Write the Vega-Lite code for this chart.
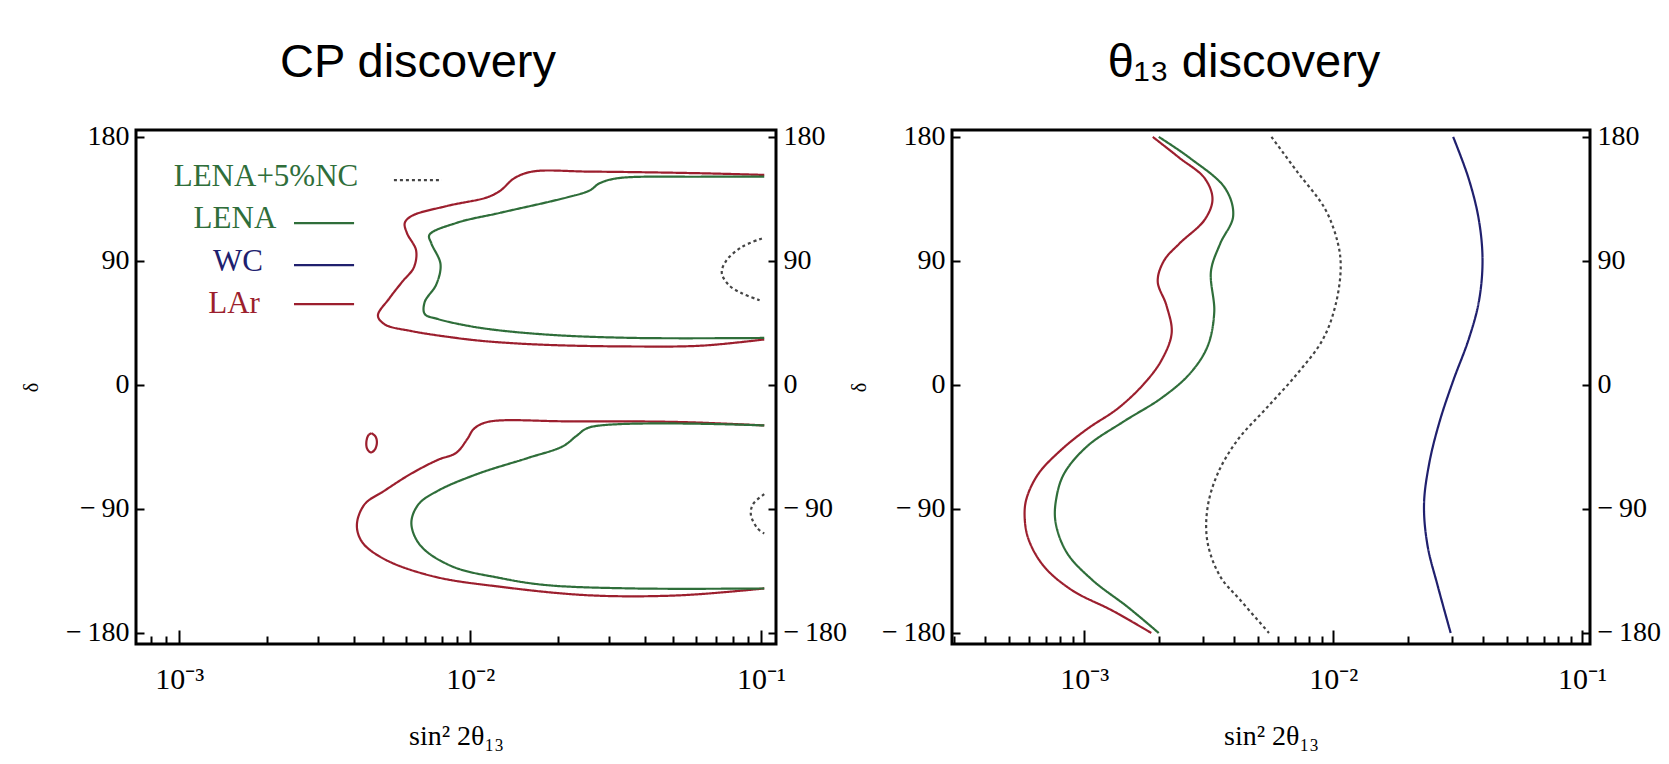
{
  "$schema": "https://vega.github.io/schema/vega-lite/v6.json",
  "background": "white",
  "padding": {"left": 20, "top": 37, "right": 0, "bottom": 0},
  "spacing": 0,
  "config": {
    "view": {"stroke": "black", "strokeWidth": 3},
    "axis": {"domain": false, "grid": false, "labelFont": "Liberation Serif", "labelColor": "black", "tickColor": "black", "tickWidth": 2, "titleFont": "Liberation Serif", "titleFontWeight": "normal", "titleColor": "black"},
    "title": {"font": "Liberation Sans", "fontSize": 47, "fontWeight": "normal", "color": "black", "offset": 36}
  },
  "datasets": {
    "curves": [
      {"p":"CP","s":"LAr","c":"LAr1","i":1,"x":0.1026,"y":152.4},
      {"p":"CP","s":"LAr","c":"LAr1","i":2,"x":0.0625,"y":153.6},
      {"p":"CP","s":"LAr","c":"LAr1","i":3,"x":0.02582,"y":154.8},
      {"p":"CP","s":"LAr","c":"LAr1","i":4,"x":0.01633,"y":154.8},
      {"p":"CP","s":"LAr","c":"LAr1","i":5,"x":0.01416,"y":149.9},
      {"p":"CP","s":"LAr","c":"LAr1","i":6,"x":0.01274,"y":141.2},
      {"p":"CP","s":"LAr","c":"LAr1","i":7,"x":0.01146,"y":136.2},
      {"p":"CP","s":"LAr","c":"LAr1","i":8,"x":0.00834,"y":129.9},
      {"p":"CP","s":"LAr","c":"LAr1","i":9,"x":0.00628,"y":122.5},
      {"p":"CP","s":"LAr","c":"LAr1","i":10,"x":0.00596,"y":117.5},
      {"p":"CP","s":"LAr","c":"LAr1","i":11,"x":0.00607,"y":110.0},
      {"p":"CP","s":"LAr","c":"LAr1","i":12,"x":0.00652,"y":97.6},
      {"p":"CP","s":"LAr","c":"LAr1","i":13,"x":0.0064,"y":85.1},
      {"p":"CP","s":"LAr","c":"LAr1","i":14,"x":0.00586,"y":75.2},
      {"p":"CP","s":"LAr","c":"LAr1","i":15,"x":0.00527,"y":62.7},
      {"p":"CP","s":"LAr","c":"LAr1","i":16,"x":0.00482,"y":50.3},
      {"p":"CP","s":"LAr","c":"LAr1","i":17,"x":0.00508,"y":44.0},
      {"p":"CP","s":"LAr","c":"LAr1","i":18,"x":0.00628,"y":39.1},
      {"p":"CP","s":"LAr","c":"LAr1","i":19,"x":0.00895,"y":34.1},
      {"p":"CP","s":"LAr","c":"LAr1","i":20,"x":0.01146,"y":31.6},
      {"p":"CP","s":"LAr","c":"LAr1","i":21,"x":0.01816,"y":29.1},
      {"p":"CP","s":"LAr","c":"LAr1","i":22,"x":0.0368,"y":27.9},
      {"p":"CP","s":"LAr","c":"LAr1","i":23,"x":0.0625,"y":28.5},
      {"p":"CP","s":"LAr","c":"LAr1","i":24,"x":0.1026,"y":33.0},

      {"p":"CP","s":"LENA","c":"LENA1","i":1,"x":0.1026,"y":151.1},
      {"p":"CP","s":"LENA","c":"LENA1","i":2,"x":0.0625,"y":151.1},
      {"p":"CP","s":"LENA","c":"LENA1","i":3,"x":0.0319,"y":149.9},
      {"p":"CP","s":"LENA","c":"LENA1","i":4,"x":0.02773,"y":146.1},
      {"p":"CP","s":"LENA","c":"LENA1","i":5,"x":0.02582,"y":141.2},
      {"p":"CP","s":"LENA","c":"LENA1","i":6,"x":0.02163,"y":136.2},
      {"p":"CP","s":"LENA","c":"LENA1","i":7,"x":0.01274,"y":125.0},
      {"p":"CP","s":"LENA","c":"LENA1","i":8,"x":0.00895,"y":117.5},
      {"p":"CP","s":"LENA","c":"LENA1","i":9,"x":0.00724,"y":108.8},
      {"p":"CP","s":"LENA","c":"LENA1","i":10,"x":0.00736,"y":102.6},
      {"p":"CP","s":"LENA","c":"LENA1","i":11,"x":0.00791,"y":87.6},
      {"p":"CP","s":"LENA","c":"LENA1","i":12,"x":0.00764,"y":72.7},
      {"p":"CP","s":"LENA","c":"LENA1","i":13,"x":0.00698,"y":60.2},
      {"p":"CP","s":"LENA","c":"LENA1","i":14,"x":0.00698,"y":51.5},
      {"p":"CP","s":"LENA","c":"LENA1","i":15,"x":0.00776,"y":47.8},
      {"p":"CP","s":"LENA","c":"LENA1","i":16,"x":0.01069,"y":41.6},
      {"p":"CP","s":"LENA","c":"LENA1","i":17,"x":0.01816,"y":36.6},
      {"p":"CP","s":"LENA","c":"LENA1","i":18,"x":0.0368,"y":34.1},
      {"p":"CP","s":"LENA","c":"LENA1","i":19,"x":0.1026,"y":34.1},

      {"p":"CP","s":"LAr","c":"LAr2","i":1,"x":0.1026,"y":-29.4},
      {"p":"CP","s":"LAr","c":"LAr2","i":2,"x":0.05236,"y":-26.9},
      {"p":"CP","s":"LAr","c":"LAr2","i":3,"x":0.02163,"y":-26.4},
      {"p":"CP","s":"LAr","c":"LAr2","i":4,"x":0.01146,"y":-26.9},
      {"p":"CP","s":"LAr","c":"LAr2","i":5,"x":0.0103,"y":-31.9},
      {"p":"CP","s":"LAr","c":"LAr2","i":6,"x":0.00977,"y":-39.4},
      {"p":"CP","s":"LAr","c":"LAr2","i":7,"x":0.00895,"y":-49.3},
      {"p":"CP","s":"LAr","c":"LAr2","i":8,"x":0.00776,"y":-54.3},
      {"p":"CP","s":"LAr","c":"LAr2","i":9,"x":0.00628,"y":-64.3},
      {"p":"CP","s":"LAr","c":"LAr2","i":10,"x":0.00508,"y":-76.7},
      {"p":"CP","s":"LAr","c":"LAr2","i":11,"x":0.004335,"y":-86.7},
      {"p":"CP","s":"LAr","c":"LAr2","i":12,"x":0.00408,"y":-101.6},
      {"p":"CP","s":"LAr","c":"LAr2","i":13,"x":0.004256,"y":-114.1},
      {"p":"CP","s":"LAr","c":"LAr2","i":14,"x":0.00508,"y":-126.5},
      {"p":"CP","s":"LAr","c":"LAr2","i":15,"x":0.0075,"y":-139.0},
      {"p":"CP","s":"LAr","c":"LAr2","i":16,"x":0.01274,"y":-146.5},
      {"p":"CP","s":"LAr","c":"LAr2","i":17,"x":0.02582,"y":-152.7},
      {"p":"CP","s":"LAr","c":"LAr2","i":18,"x":0.05236,"y":-152.7},
      {"p":"CP","s":"LAr","c":"LAr2","i":19,"x":0.1026,"y":-147.7},

      {"p":"CP","s":"LENA","c":"LENA2","i":1,"x":0.1026,"y":-29.4},
      {"p":"CP","s":"LENA","c":"LENA2","i":2,"x":0.02582,"y":-30.7},
      {"p":"CP","s":"LENA","c":"LENA2","i":3,"x":0.02323,"y":-36.9},
      {"p":"CP","s":"LENA","c":"LENA2","i":4,"x":0.02089,"y":-44.4},
      {"p":"CP","s":"LENA","c":"LENA2","i":5,"x":0.01574,"y":-53.1},
      {"p":"CP","s":"LENA","c":"LENA2","i":6,"x":0.01069,"y":-64.3},
      {"p":"CP","s":"LENA","c":"LENA2","i":7,"x":0.00776,"y":-76.7},
      {"p":"CP","s":"LENA","c":"LENA2","i":8,"x":0.00664,"y":-86.7},
      {"p":"CP","s":"LENA","c":"LENA2","i":9,"x":0.00628,"y":-100.4},
      {"p":"CP","s":"LENA","c":"LENA2","i":10,"x":0.006745,"y":-116.5},
      {"p":"CP","s":"LENA","c":"LENA2","i":11,"x":0.00863,"y":-131.5},
      {"p":"CP","s":"LENA","c":"LENA2","i":12,"x":0.01274,"y":-140.2},
      {"p":"CP","s":"LENA","c":"LENA2","i":13,"x":0.01816,"y":-145.2},
      {"p":"CP","s":"LENA","c":"LENA2","i":14,"x":0.0368,"y":-147.7},
      {"p":"CP","s":"LENA","c":"LENA2","i":15,"x":0.1026,"y":-147.7},

      {"p":"CP","s":"LAr","c":"LAr3","i":1,"x":0.00458,"y":-35.0},
      {"p":"CP","s":"LAr","c":"LAr3","i":2,"x":0.00473,"y":-37.5},
      {"p":"CP","s":"LAr","c":"LAr3","i":3,"x":0.00478,"y":-42.0},
      {"p":"CP","s":"LAr","c":"LAr3","i":4,"x":0.0047,"y":-47.0},
      {"p":"CP","s":"LAr","c":"LAr3","i":5,"x":0.00455,"y":-49.0},
      {"p":"CP","s":"LAr","c":"LAr3","i":6,"x":0.00442,"y":-46.0},
      {"p":"CP","s":"LAr","c":"LAr3","i":7,"x":0.0044,"y":-41.0},
      {"p":"CP","s":"LAr","c":"LAr3","i":8,"x":0.00447,"y":-36.5},
      {"p":"CP","s":"LAr","c":"LAr3","i":9,"x":0.00458,"y":-35.0},

      {"p":"CP","s":"LENA+5%NC","c":"NC1","i":1,"x":0.1007,"y":106.3},
      {"p":"CP","s":"LENA+5%NC","c":"NC1","i":2,"x":0.0859,"y":100.1},
      {"p":"CP","s":"LENA+5%NC","c":"NC1","i":3,"x":0.0759,"y":90.1},
      {"p":"CP","s":"LENA+5%NC","c":"NC1","i":4,"x":0.0733,"y":81.4},
      {"p":"CP","s":"LENA+5%NC","c":"NC1","i":5,"x":0.0773,"y":72.7},
      {"p":"CP","s":"LENA+5%NC","c":"NC1","i":6,"x":0.0859,"y":66.5},
      {"p":"CP","s":"LENA+5%NC","c":"NC1","i":7,"x":0.0989,"y":61.5},

      {"p":"CP","s":"LENA+5%NC","c":"NC2","i":1,"x":0.1026,"y":-79.2},
      {"p":"CP","s":"LENA+5%NC","c":"NC2","i":2,"x":0.0938,"y":-86.7},
      {"p":"CP","s":"LENA+5%NC","c":"NC2","i":3,"x":0.0923,"y":-94.2},
      {"p":"CP","s":"LENA+5%NC","c":"NC2","i":4,"x":0.0973,"y":-104.1},
      {"p":"CP","s":"LENA+5%NC","c":"NC2","i":5,"x":0.1026,"y":-107.8},

      {"p":"TH","s":"LAr","c":"LAr4","i":1,"x":0.001884,"y":180},
      {"p":"TH","s":"LAr","c":"LAr4","i":2,"x":0.00241,"y":164.8},
      {"p":"TH","s":"LAr","c":"LAr4","i":3,"x":0.003048,"y":149.9},
      {"p":"TH","s":"LAr","c":"LAr4","i":4,"x":0.003273,"y":134.9},
      {"p":"TH","s":"LAr","c":"LAr4","i":5,"x":0.003048,"y":120.0},
      {"p":"TH","s":"LAr","c":"LAr4","i":6,"x":0.00241,"y":102.6},
      {"p":"TH","s":"LAr","c":"LAr4","i":7,"x":0.002089,"y":90.1},
      {"p":"TH","s":"LAr","c":"LAr4","i":8,"x":0.001972,"y":75.2},
      {"p":"TH","s":"LAr","c":"LAr4","i":9,"x":0.002138,"y":57.7},
      {"p":"TH","s":"LAr","c":"LAr4","i":10,"x":0.002244,"y":37.8},
      {"p":"TH","s":"LAr","c":"LAr4","i":11,"x":0.002042,"y":17.9},
      {"p":"TH","s":"LAr","c":"LAr4","i":12,"x":0.00173,"y":0.5},
      {"p":"TH","s":"LAr","c":"LAr4","i":13,"x":0.001365,"y":-17.0},
      {"p":"TH","s":"LAr","c":"LAr4","i":14,"x":0.001028,"y":-31.9},
      {"p":"TH","s":"LAr","c":"LAr4","i":15,"x":0.000811,"y":-46.8},
      {"p":"TH","s":"LAr","c":"LAr4","i":16,"x":0.000655,"y":-64.3},
      {"p":"TH","s":"LAr","c":"LAr4","i":17,"x":0.0005875,"y":-81.7},
      {"p":"TH","s":"LAr","c":"LAr4","i":18,"x":0.0005754,"y":-94.2},
      {"p":"TH","s":"LAr","c":"LAr4","i":19,"x":0.0005957,"y":-111.6},
      {"p":"TH","s":"LAr","c":"LAr4","i":20,"x":0.0006871,"y":-131.5},
      {"p":"TH","s":"LAr","c":"LAr4","i":21,"x":0.0008913,"y":-148.9},
      {"p":"TH","s":"LAr","c":"LAr4","i":22,"x":0.0013,"y":-163.9},
      {"p":"TH","s":"LAr","c":"LAr4","i":23,"x":0.001858,"y":-180},

      {"p":"TH","s":"LENA","c":"LENA4","i":1,"x":0.001991,"y":180},
      {"p":"TH","s":"LENA","c":"LENA4","i":2,"x":0.002649,"y":164.8},
      {"p":"TH","s":"LENA","c":"LENA4","i":3,"x":0.00369,"y":142.4},
      {"p":"TH","s":"LENA","c":"LENA4","i":4,"x":0.003963,"y":122.5},
      {"p":"TH","s":"LENA","c":"LENA4","i":5,"x":0.003516,"y":102.6},
      {"p":"TH","s":"LENA","c":"LENA4","i":6,"x":0.003228,"y":82.6},
      {"p":"TH","s":"LENA","c":"LENA4","i":7,"x":0.003327,"y":52.8},
      {"p":"TH","s":"LENA","c":"LENA4","i":8,"x":0.003126,"y":27.9},
      {"p":"TH","s":"LENA","c":"LENA4","i":9,"x":0.002649,"y":8.0},
      {"p":"TH","s":"LENA","c":"LENA4","i":10,"x":0.002042,"y":-9.5},
      {"p":"TH","s":"LENA","c":"LENA4","i":11,"x":0.001429,"y":-26.9},
      {"p":"TH","s":"LENA","c":"LENA4","i":12,"x":0.001028,"y":-44.4},
      {"p":"TH","s":"LENA","c":"LENA4","i":13,"x":0.0008299,"y":-64.3},
      {"p":"TH","s":"LENA","c":"LENA4","i":14,"x":0.0007727,"y":-81.7},
      {"p":"TH","s":"LENA","c":"LENA4","i":15,"x":0.0007656,"y":-99.1},
      {"p":"TH","s":"LENA","c":"LENA4","i":16,"x":0.0008492,"y":-121.5},
      {"p":"TH","s":"LENA","c":"LENA4","i":17,"x":0.001076,"y":-141.5},
      {"p":"TH","s":"LENA","c":"LENA4","i":18,"x":0.0015,"y":-161.4},
      {"p":"TH","s":"LENA","c":"LENA4","i":19,"x":0.001991,"y":-180},

      {"p":"TH","s":"LENA+5%NC","c":"NC4","i":1,"x":0.005649,"y":180},
      {"p":"TH","s":"LENA+5%NC","c":"NC4","i":2,"x":0.007161,"y":154.8},
      {"p":"TH","s":"LENA+5%NC","c":"NC4","i":3,"x":0.00929,"y":127.5},
      {"p":"TH","s":"LENA+5%NC","c":"NC4","i":4,"x":0.01045,"y":102.6},
      {"p":"TH","s":"LENA+5%NC","c":"NC4","i":5,"x":0.01072,"y":85.1},
      {"p":"TH","s":"LENA+5%NC","c":"NC4","i":6,"x":0.01021,"y":57.7},
      {"p":"TH","s":"LENA+5%NC","c":"NC4","i":7,"x":0.00908,"y":32.9},
      {"p":"TH","s":"LENA+5%NC","c":"NC4","i":8,"x":0.007161,"y":8.0},
      {"p":"TH","s":"LENA+5%NC","c":"NC4","i":9,"x":0.005383,"y":-17.0},
      {"p":"TH","s":"LENA+5%NC","c":"NC4","i":10,"x":0.00415,"y":-39.4},
      {"p":"TH","s":"LENA+5%NC","c":"NC4","i":11,"x":0.003436,"y":-64.3},
      {"p":"TH","s":"LENA+5%NC","c":"NC4","i":12,"x":0.003126,"y":-89.2},
      {"p":"TH","s":"LENA+5%NC","c":"NC4","i":13,"x":0.003126,"y":-114.1},
      {"p":"TH","s":"LENA+5%NC","c":"NC4","i":14,"x":0.003516,"y":-139.0},
      {"p":"TH","s":"LENA+5%NC","c":"NC4","i":15,"x":0.004246,"y":-156.4},
      {"p":"TH","s":"LENA+5%NC","c":"NC4","i":16,"x":0.005521,"y":-180},

      {"p":"TH","s":"WC","c":"WC4","i":1,"x":0.03034,"y":180},
      {"p":"TH","s":"WC","c":"WC4","i":2,"x":0.03499,"y":149.9},
      {"p":"TH","s":"WC","c":"WC4","i":3,"x":0.03846,"y":120.0},
      {"p":"TH","s":"WC","c":"WC4","i":4,"x":0.03981,"y":90.1},
      {"p":"TH","s":"WC","c":"WC4","i":5,"x":0.03846,"y":60.2},
      {"p":"TH","s":"WC","c":"WC4","i":6,"x":0.03499,"y":32.9},
      {"p":"TH","s":"WC","c":"WC4","i":7,"x":0.03034,"y":3.0},
      {"p":"TH","s":"WC","c":"WC4","i":8,"x":0.02673,"y":-26.9},
      {"p":"TH","s":"WC","c":"WC4","i":9,"x":0.02432,"y":-56.8},
      {"p":"TH","s":"WC","c":"WC4","i":10,"x":0.02317,"y":-86.7},
      {"p":"TH","s":"WC","c":"WC4","i":11,"x":0.02393,"y":-116.5},
      {"p":"TH","s":"WC","c":"WC4","i":12,"x":0.02636,"y":-146.5},
      {"p":"TH","s":"WC","c":"WC4","i":13,"x":0.02965,"y":-180}
    ],
    "legendText": [
      {"label":"LENA+5%NC","x":0.001987,"y":151.2},
      {"label":"LENA","x":0.001554,"y":120.7},
      {"label":"WC","x":0.001592,"y":89.5},
      {"label":"LAr","x":0.001543,"y":59.0}
    ],
    "legendLines": [
      {"s":"LENA+5%NC","i":1,"x":0.00547,"y":148.6},
      {"s":"LENA+5%NC","i":2,"x":0.0080,"y":148.6},
      {"s":"LENA","i":1,"x":0.00248,"y":117.4},
      {"s":"LENA","i":2,"x":0.00399,"y":117.4},
      {"s":"WC","i":1,"x":0.00248,"y":86.9},
      {"s":"WC","i":2,"x":0.00399,"y":86.9},
      {"s":"LAr","i":1,"x":0.00248,"y":58.6},
      {"s":"LAr","i":2,"x":0.00399,"y":58.6}
    ]
  },
  "hconcat": [
    {
      "width": 640,
      "height": 514,
      "title": {"text": "CP discovery", "dx": -38},
      "resolve": {"axis": {"y": "independent"}, "scale": {"color": "independent"}},
      "layer": [
        {
          "data": {"name": "curves"},
          "transform": [{"filter": "datum.p == 'CP'"}],
          "mark": {"type": "line", "strokeWidth": 2.2, "interpolate": "catmull-rom", "clip": true},
          "encoding": {
            "x": {"field": "x", "type": "quantitative",
                  "scale": {"type": "log", "domain": [0.00071, 0.1126], "nice": false},
                  "axis": {"orient": "bottom", "title": "sin² 2θ₁₃", "titleFontSize": 28, "titlePadding": 28,
                           "values": [0.0008,0.0009,0.001,0.002,0.003,0.004,0.005,0.006,0.007,0.008,0.009,0.01,0.02,0.03,0.04,0.05,0.06,0.07,0.08,0.09,0.1],
                           "labelExpr": "datum.value == 0.001 ? '10⁻³' : datum.value == 0.01 ? '10⁻²' : datum.value == 0.1 ? '10⁻¹' : ''",
                           "labelFontSize": 30, "labelPadding": 34,
                           "tickSize": {"condition": {"test": "datum.value == 0.001 || datum.value == 0.01 || datum.value == 0.1", "value": -14}, "value": -8}}},
            "y": {"field": "y", "type": "quantitative",
                  "scale": {"domain": [-188, 185], "nice": false, "zero": false},
                  "axis": {"orient": "left", "title": "δ", "titleFontSize": 20, "titlePadding": 24,
                           "values": [-180, -90, 0, 90, 180],
                           "labelExpr": "datum.value < 0 ? '−\u2009' + abs(datum.value) : '' + datum.value",
                           "labelFontSize": 28, "labelPadding": 15, "tickSize": -8}},
            "detail": {"field": "c"},
            "order": {"field": "i", "type": "quantitative"},
            "color": {"field": "s", "type": "nominal", "legend": null,
                      "scale": {"domain": ["LAr", "LENA", "WC", "LENA+5%NC"], "range": ["#9c1f2e", "#2f6e3a", "#20206e", "#444444"]}},
            "strokeDash": {"field": "s", "type": "nominal", "legend": null,
                           "scale": {"domain": ["LAr", "LENA", "WC", "LENA+5%NC"], "range": [[1, 0], [1, 0], [1, 0], [3, 3]]}}
          }
        },
        {
          "data": {"name": "legendLines"},
          "mark": {"type": "line", "strokeWidth": 2.2},
          "encoding": {
            "x": {"field": "x", "type": "quantitative", "scale": {"type": "log", "domain": [0.00071, 0.1126], "nice": false}},
            "y": {"field": "y", "type": "quantitative", "scale": {"domain": [-188, 185], "nice": false, "zero": false},
                  "axis": {"orient": "right", "title": null, "values": [-180, -90, 0, 90, 180],
                           "labelExpr": "datum.value < 0 ? '−\u2009' + abs(datum.value) : '' + datum.value",
                           "labelFontSize": 28, "labelPadding": 15, "tickSize": -8}},
            "detail": {"field": "s"},
            "order": {"field": "i", "type": "quantitative"},
            "color": {"field": "s", "type": "nominal", "legend": null,
                      "scale": {"domain": ["LAr", "LENA", "WC", "LENA+5%NC"], "range": ["#9c1f2e", "#2f6e3a", "#20206e", "#444444"]}},
            "strokeDash": {"field": "s", "type": "nominal", "legend": null,
                           "scale": {"domain": ["LAr", "LENA", "WC", "LENA+5%NC"], "range": [[1, 0], [1, 0], [1, 0], [3, 3]]}}
          }
        },
        {
          "data": {"name": "legendText"},
          "mark": {"type": "text", "font": "Liberation Serif", "fontSize": 31, "align": "center", "baseline": "middle"},
          "encoding": {
            "x": {"field": "x", "type": "quantitative"},
            "y": {"field": "y", "type": "quantitative", "axis": null},
            "text": {"field": "label"},
            "color": {"field": "label", "type": "nominal", "legend": null,
                      "scale": {"domain": ["LENA+5%NC", "LENA", "WC", "LAr"], "range": ["#2f6e3a", "#2f6e3a", "#20206e", "#9c1f2e"]}}
          }
        }
      ]
    },
    {
      "width": 638,
      "height": 514,
      "title": {"text": "θ₁₃ discovery", "dx": -27},
      "resolve": {"axis": {"y": "independent"}},
      "layer": [
        {
          "data": {"name": "curves"},
          "transform": [{"filter": "datum.p == 'TH' && datum.s != 'LENA+5%NC'"}],
          "mark": {"type": "line", "strokeWidth": 2.2, "interpolate": "catmull-rom", "clip": true},
          "encoding": {
            "x": {"field": "x", "type": "quantitative",
                  "scale": {"type": "log", "domain": [0.000294, 0.1076], "nice": false},
                  "axis": {"orient": "bottom", "title": "sin² 2θ₁₃", "titleFontSize": 28, "titlePadding": 28,
                           "values": [0.0003,0.0004,0.0005,0.0006,0.0007,0.0008,0.0009,0.001,0.002,0.003,0.004,0.005,0.006,0.007,0.008,0.009,0.01,0.02,0.03,0.04,0.05,0.06,0.07,0.08,0.09,0.1],
                           "labelExpr": "datum.value == 0.001 ? '10⁻³' : datum.value == 0.01 ? '10⁻²' : datum.value == 0.1 ? '10⁻¹' : ''",
                           "labelFontSize": 30, "labelPadding": 34,
                           "tickSize": {"condition": {"test": "datum.value == 0.001 || datum.value == 0.01 || datum.value == 0.1", "value": -14}, "value": -8}}},
            "y": {"field": "y", "type": "quantitative",
                  "scale": {"domain": [-188, 185], "nice": false, "zero": false},
                  "axis": {"orient": "left", "title": "δ", "titleFontSize": 20, "titlePadding": 12,
                           "values": [-180, -90, 0, 90, 180],
                           "labelExpr": "datum.value < 0 ? '−\u2009' + abs(datum.value) : '' + datum.value",
                           "labelFontSize": 28, "labelPadding": 15, "tickSize": -8}},
            "detail": {"field": "c"},
            "order": {"field": "i", "type": "quantitative"},
            "color": {"field": "s", "type": "nominal", "legend": null,
                      "scale": {"domain": ["LAr", "LENA", "WC", "LENA+5%NC"], "range": ["#9c1f2e", "#2f6e3a", "#20206e", "#444444"]}},
            "strokeDash": {"field": "s", "type": "nominal", "legend": null,
                           "scale": {"domain": ["LAr", "LENA", "WC", "LENA+5%NC"], "range": [[1, 0], [1, 0], [1, 0], [3, 3]]}}
          }
        },
        {
          "data": {"name": "curves"},
          "transform": [{"filter": "datum.p == 'TH' && datum.s == 'LENA+5%NC'"}],
          "mark": {"type": "line", "strokeWidth": 2.2, "interpolate": "catmull-rom", "clip": true},
          "encoding": {
            "x": {"field": "x", "type": "quantitative"},
            "y": {"field": "y", "type": "quantitative",
                  "axis": {"orient": "right", "title": null, "values": [-180, -90, 0, 90, 180],
                           "labelExpr": "datum.value < 0 ? '−\u2009' + abs(datum.value) : '' + datum.value",
                           "labelFontSize": 28, "labelPadding": 15, "tickSize": -8}},
            "detail": {"field": "c"},
            "order": {"field": "i", "type": "quantitative"},
            "color": {"field": "s", "type": "nominal", "legend": null},
            "strokeDash": {"field": "s", "type": "nominal", "legend": null}
          }
        }
      ]
    }
  ]
}
